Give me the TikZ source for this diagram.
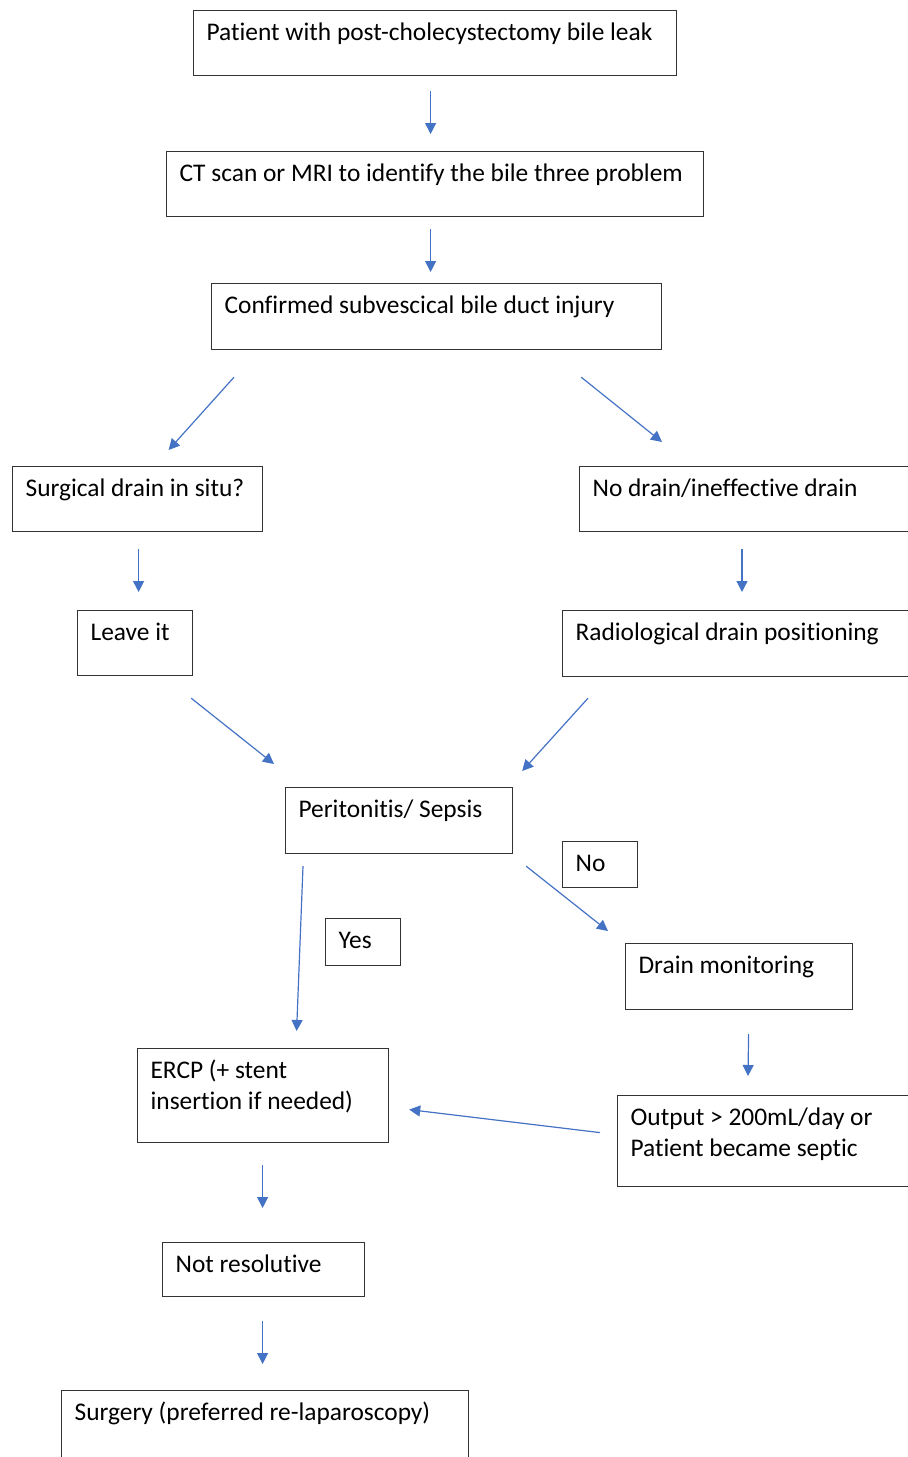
\documentclass[tikz,border=0pt]{standalone}
\usepackage{fontspec}
\setmainfont{Carlito}[Ligatures=NoCommon]
\usetikzlibrary{arrows.meta}

\begin{document}
\begin{tikzpicture}[
    x=0.5pt, y=-0.5pt,
    font=\fontsize{12.7}{15.5}\selectfont,
    box/.style 2 args={draw=black!80, line width=0.6pt, anchor=north west,
        align=flush left, inner xsep=6.5pt, inner ysep=0pt, text height=15pt,
        text width=#1, text depth=#2},
    flow/.style={-{Triangle[length=5.5pt, width=5.5pt]}, line width=0.6pt,
        draw={rgb,255:red,68;green,114;blue,196}}
]
\useasboundingbox (0,0) rectangle (908,1457);
\clip (0,0) rectangle (908,1457);
%
\node[box={228.5pt}{17.5pt}] (patient) at (193,10) {Patient with post-cholecystectomy bile leak};
\node[box={255.5pt}{17.5pt}] (imaging) at (166,151) {CT scan or MRI to identify the bile three problem};
\node[box={212pt}{18pt}] (injury) at (211,283) {Confirmed subvescical bile duct injury};
\node[box={112pt}{17.5pt}] (drainq) at (12,466) {Surgical drain in situ?};
\node[box={157pt}{17.5pt}] (nodrain) at (579,466) {No drain/ineffective drain};
\node[box={44.5pt}{17.5pt}] (leave) at (77,610) {Leave it};
\node[box={167pt}{18pt}] (radio) at (562,610) {Radiological drain positioning};
\node[box={100.5pt}{18pt}] (sepsis) at (285,787) {Peritonitis/ Sepsis};
\node[box={24.5pt}{8pt}] (no) at (562,841) {No};
\node[box={24.5pt}{8.5pt}] (yes) at (325,918) {Yes};
\node[box={100.5pt}{18pt}] (monitor) at (625,943) {Drain monitoring};
\node[box={112.5pt}{32pt}] (ercp) at (137,1048) {ERCP (+ stent\\insertion if needed)};
\node[box={137pt}{30.5pt}] (output) at (617,1095) {Output > 200mL/day or\\Patient became septic};
\node[box={88pt}{12pt}] (notres) at (162,1242) {Not resolutive};
\node[box={190.5pt}{25pt}] (surgery) at (61,1390) {Surgery (preferred re-laparoscopy)};
%
\draw[flow] ([shift={(-4.5,15)}]patient.south) -- ([shift={(-4.5,-17)}]imaging.north);
\draw[flow] ([shift={(-4.5,12)}]imaging.south) -- ([shift={(-6,-11)}]injury.north);
\draw[flow] ([shift={(23,27)}]injury.south west) -- ([shift={(31,-16)}]drainq.north);
\draw[flow] ([shift={(-81,27)}]injury.south east) -- ([shift={(83,-24)}]nodrain.north west);
\draw[flow] ([shift={(1,17)}]drainq.south) -- ([shift={(3.5,-18)}]leave.north);
\draw[flow] ([shift={(163,17)}]nodrain.south west) -- ([shift={(180,-18)}]radio.north west);
\draw[flow] ([shift={(-2,22)}]leave.south east) -- ([shift={(-11,-23)}]sepsis.north west);
\draw[flow] ([shift={(26,21)}]radio.south west) -- ([shift={(9,-16)}]sepsis.north east);
\draw[flow] ([shift={(18,12)}]sepsis.south west) -- ([shift={(33.5,-17)}]ercp.north);
\draw[flow] ([shift={(13,12)}]sepsis.south east) -- ([shift={(-17,-12)}]monitor.north west);
\draw[flow] ([shift={(9.5,24)}]monitor.south) -- ([shift={(131,-19)}]output.north west);
\draw[flow] ([shift={(-17,-8.5)}]output.west) -- ([shift={(20,14)}]ercp.east);
\draw[flow] ([shift={(-0.5,22)}]ercp.south) -- ([shift={(-1,-34)}]notres.north);
\draw[flow] ([shift={(-1,24)}]notres.south) -- ([shift={(-2.5,-26)}]surgery.north);
\end{tikzpicture}
\end{document}
